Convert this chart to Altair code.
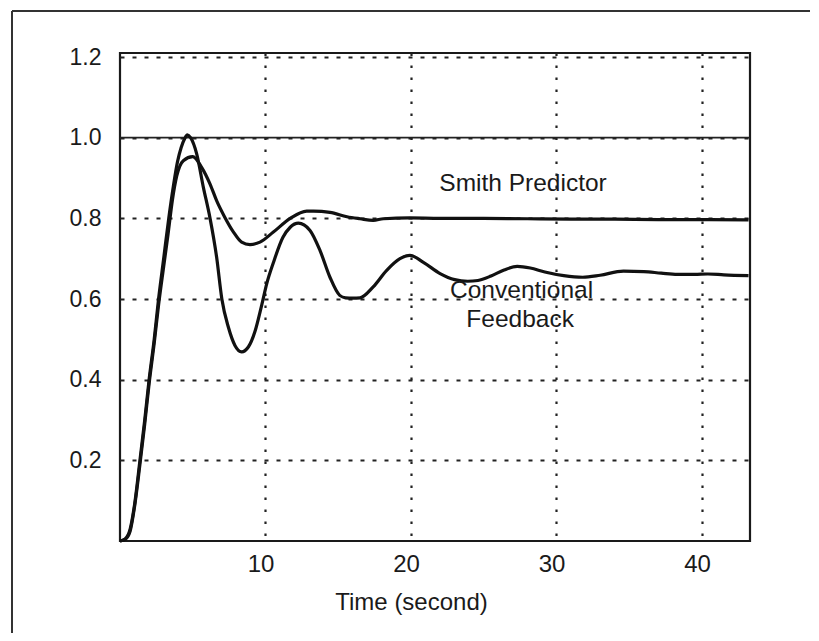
import altair as alt
import pandas as pd

# Conventional feedback response
conv_t = [0, 0.35, 0.7, 1.0, 1.37, 1.7, 2.0, 2.35, 2.65, 3.0, 3.35, 3.67, 3.95, 4.2, 4.45, 4.63,
          4.85, 5.27, 5.73, 6.19, 6.64, 7.0, 7.45, 7.9, 8.36, 8.82, 9.28, 9.74, 10.1, 10.54,
          11.2, 11.7, 12.26, 13.06, 13.75, 14.43, 15.1, 15.5, 16.0, 16.5, 17.4, 18.33, 19.24,
          19.93, 20.85, 22.0, 23.0, 23.9, 24.6, 25.5, 26.4, 27.3, 28.2, 29.2, 30.5, 31.8,
          33.0, 34.6, 36.0, 37.2, 38.3, 39.5, 40.4, 41.5, 43.2]
conv_y = [0, 0.005, 0.03, 0.09, 0.2, 0.3, 0.4, 0.5, 0.6, 0.7, 0.8, 0.88, 0.94, 0.975, 0.998, 1.007,
          1.0, 0.96, 0.877, 0.8, 0.704, 0.6, 0.53, 0.485, 0.469, 0.481, 0.52, 0.585, 0.64, 0.69,
          0.753, 0.778, 0.788, 0.77, 0.72, 0.654, 0.609, 0.603, 0.602, 0.603, 0.63, 0.671, 0.7,
          0.708, 0.691, 0.663, 0.648, 0.644, 0.646, 0.657, 0.672, 0.681, 0.677, 0.667, 0.658, 0.654,
          0.659, 0.669, 0.668, 0.664, 0.661, 0.661, 0.662, 0.66, 0.658]

# Smith predictor response
smith_t = [0, 0.35, 0.7, 1.0, 1.37, 1.7, 2.0, 2.35, 2.65, 3.0, 3.3, 3.6, 3.9, 4.35, 5.0, 5.6,
           6.19, 6.64, 7.2, 7.8, 8.36, 8.93, 9.62, 10.54, 11.7, 12.83, 13.3, 14.43, 15.6, 16.5,
           17.4, 18.1, 19.9, 22.0, 25.0, 28.0, 31.0, 34.0, 37.0, 40.0, 43.2]
smith_y = [0, 0.004, 0.025, 0.085, 0.19, 0.29, 0.39, 0.49, 0.585, 0.68, 0.76, 0.845, 0.905, 0.943,
           0.953, 0.927, 0.885, 0.844, 0.803, 0.766, 0.741, 0.735, 0.741, 0.766, 0.8, 0.818, 0.818,
           0.815, 0.804, 0.799, 0.795, 0.799, 0.801, 0.8, 0.8, 0.799, 0.798, 0.798, 0.797, 0.797, 0.796]

setpoint = [1.0]
x_ticks = [10, 20, 30, 40]
y_ticks = [0.2, 0.4, 0.6, 0.8, 1.0, 1.2]

label_text = ["Smith Predictor", "Conventional", "Feedback"]
label_t = [27.7, 27.6, 27.5]
label_y = [0.886, 0.619, 0.547]

df = pd.concat([
    pd.DataFrame({"t": conv_t, "y": conv_y, "series": "Conventional Feedback"}),
    pd.DataFrame({"t": smith_t, "y": smith_y, "series": "Smith Predictor"}),
])
labels = pd.DataFrame({"t": label_t, "y": label_y, "text": label_text})
ref = pd.DataFrame({"y": setpoint})

FONT = "Liberation Sans"
INK = "#1a1a1a"
x_scale = alt.Scale(domain=[0, 43.3], nice=False, zero=False)
y_scale = alt.Scale(domain=[0, 1.21], nice=False)

lines = alt.Chart(df).mark_line(strokeWidth=3.2, color="#111", interpolate="monotone").encode(
    x=alt.X("t:Q", scale=x_scale,
            axis=alt.Axis(values=x_ticks, title="Time (second)", grid=True, gridDash=[2.5, 9.5],
                          gridColor="#222", gridWidth=2.2, ticks=False, tickSize=0, domain=False,
                          labelFont=FONT, labelFontSize=24, labelColor=INK, labelPadding=11,
                          labelOffset=-5, titleFont=FONT, titleFontSize=24, titleFontWeight="normal",
                          titleColor=INK, titleX=291, titleY=61, titleBaseline="middle",
                          titleAnchor="start", titleAlign="center")),
    y=alt.Y("y:Q", scale=y_scale,
            axis=alt.Axis(values=y_ticks, format=".1f", title=None, grid=True, gridDash=[4, 8],
                          gridColor="#222", gridWidth=2.2, ticks=False, tickSize=0, domain=False,
                          labelFont=FONT, labelFontSize=23, labelColor=INK, labelPadding=19)),
    detail="series:N",
)

setline = alt.Chart(ref).mark_rule(color="#222", strokeWidth=1.8).encode(y=alt.Y("y:Q", scale=y_scale))

texts = alt.Chart(labels).mark_text(font=FONT, fontSize=24.5, color=INK, align="center",
                                    baseline="middle").encode(
    x=alt.X("t:Q", scale=x_scale), y=alt.Y("y:Q", scale=y_scale), text="text:N")

dummy = pd.DataFrame({"k": [0]})
frame_left = alt.Chart(dummy).mark_rule(color="#333", strokeWidth=2).encode(
    x=alt.value(-108), y=alt.value(-42), y2=alt.value(580))
frame_top = alt.Chart(dummy).mark_rule(color="#333", strokeWidth=2).encode(
    x=alt.value(-108), x2=alt.value(690), y=alt.value(-42))

chart = alt.layer(setline, lines, texts, frame_left, frame_top).properties(
    width=630, height=488,
    autosize="none",
    padding={"left": 112, "top": 45, "right": 61, "bottom": 92},
    background="white",
).configure_view(stroke="#1a1a1a", strokeWidth=2.2)

chart.save("out.html", embed_options={"renderer": "svg", "actions": False})
